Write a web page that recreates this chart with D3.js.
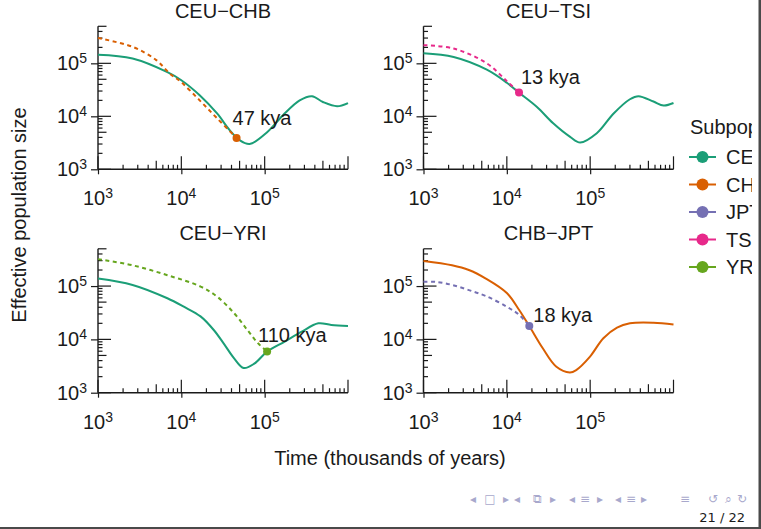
<!DOCTYPE html>
<html>
<head>
<meta charset="utf-8">
<script src="https://cdn.jsdelivr.net/npm/d3@7"></script>
<style>
body{margin:0;background:#fff}
svg{display:block}
text{font-family:"Liberation Sans",Arial,Helvetica,sans-serif;fill:#1a1a1a}
</style>
</head>
<body>
<script>
//---------------------------------- data
var popNames  = ["CEU","CHB","JPT","TSI","YRI"];
var popColors = ["#1b9e77","#d95f02","#7570b3","#e7298a","#66a61e"];
var panelTitles = ["CEU\u2212CHB","CEU\u2212TSI","CEU\u2212YRI","CHB\u2212JPT"];
var splitLabels = ["47 kya","13 kya","110 kya","18 kya"];
var tickValues = [1e3,1e4,1e5];
var tickExponents = ["3","4","5"];

// [time (years), effective size]
var chbPanelCEU = [[1e3,1.45e5],[2.6e3,1.23e5],[6.8e3,6.8e4],[1e4,4.8e4],[1.66e4,2.5e4],[2.7e4,1.12e4],[3.8e4,5.5e3],[5e4,3.55e3],[6.6e4,3.0e3],[1.07e5,5.0e3],[1.66e5,1.05e4],[2.63e5,2.0e4],[3.7e5,2.4e4],[5e5,1.86e4],[7.4e5,1.55e4],[1e6,1.78e4]];
var chbPanelCHB = [[1e3,3.0e5],[2.6e3,2.05e5],[5e3,1.15e5],[7.2e3,6.5e4],[1e4,4.4e4],[1.66e4,2.0e4],[2.7e4,9.1e3],[4.6e4,3.9e3]];
var tsiPanelCEU = [[1e3,1.55e5],[2.3e3,1.32e5],[5.75e3,7.6e4],[1e4,4.3e4],[1.4e4,2.8e4],[2.3e4,1.5e4],[3.6e4,7.4e3],[5.75e4,4.1e3],[7.6e4,3.2e3],[1.2e5,4.8e3],[1.9e5,1.12e4],[3.0e5,2.1e4],[3.8e5,2.4e4],[5.75e5,1.9e4],[7.6e5,1.6e4],[1e6,1.78e4]];
var tsiPanelTSI = [[1e3,2.2e5],[2.3e3,1.9e5],[5.75e3,1.0e5],[1e4,4.6e4],[1.4e4,2.8e4]];
var yriPanelCEU = [[1e3,1.38e5],[2.6e3,1.05e5],[6.8e3,5.9e4],[1.07e4,4.1e4],[1.7e4,2.7e4],[2.45e4,1.5e4],[3.2e4,8.5e3],[4.3e4,4.4e3],[5.6e4,2.9e3],[7.5e4,3.5e3],[1.07e5,5.9e3],[1.74e5,9.1e3],[2.75e5,1.38e4],[4.4e5,2.0e4],[6.3e5,1.86e4],[1e6,1.78e4]];
var yriPanelYRI = [[1e3,3.2e5],[2.6e3,2.45e5],[6.8e3,1.6e5],[1.7e4,9.8e4],[2.7e4,6.3e4],[4.3e4,3.1e4],[6.2e4,1.5e4],[8.3e4,8.5e3],[1.07e5,5.9e3]];
var jptPanelCHB = [[1e3,2.95e5],[2.2e3,2.45e5],[3.5e3,2.0e5],[5.6e3,1.38e5],[1e4,7.4e4],[1.4e4,3.6e4],[1.86e4,1.78e4],[2.7e4,6.8e3],[3.9e4,3.1e3],[5.7e4,2.4e3],[6.8e4,2.66e3],[9.9e4,4.7e3],[1.44e5,1.05e4],[2.1e5,1.66e4],[3.0e5,2.0e4],[5.75e5,2.05e4],[1e6,1.9e4]];
var jptPanelJPT = [[1e3,1.2e5],[1.4e3,1.2e5],[2.2e3,1.05e5],[3.5e3,8.4e4],[5.6e3,6.5e4],[1e4,4.1e4],[1.4e4,2.9e4],[1.86e4,1.78e4]];

//---------------------------------- layout
var W = 761, H = 529;
var colX = [[98,348],[423.5,673.5]];
var rowY = [[169.3,26.3],[392.7,248.8]];
var labelOffsets = [[-4,-13],[2,-9],[-9,-10],[4,-4]];

var panels = [
	{col:0,row:0,solid:chbPanelCEU,solidPop:"CEU",dashed:chbPanelCHB,dashedPop:"CHB"},
	{col:1,row:0,solid:tsiPanelCEU,solidPop:"CEU",dashed:tsiPanelTSI,dashedPop:"TSI"},
	{col:0,row:1,solid:yriPanelCEU,solidPop:"CEU",dashed:yriPanelYRI,dashedPop:"YRI"},
	{col:1,row:1,solid:jptPanelCHB,solidPop:"CHB",dashed:jptPanelJPT,dashedPop:"JPT"}
];

function colorOf(p){ return popColors[popNames.indexOf(p)]; }

var svg = d3.select("body").append("svg").attr("width",W).attr("height",H);

var defs = svg.append("defs");
defs.append("clipPath").attr("id","slide-clip")
	.append("rect").attr("x",0).attr("y",0).attr("width",752).attr("height",H);

panels.forEach(function (p,i){
	var x = d3.scaleLog().domain([1e3,1e6]).range(colX[p.col]);
	var y = d3.scaleLog().domain([1e3,5e5]).range(rowY[p.row]);
	var g = svg.append("g").attr("class","panel");
	var x0 = colX[p.col][0], x1 = colX[p.col][1];
	var yb = rowY[p.row][0], yt = rowY[p.row][1];

	// title
	g.append("text").attr("x",(x0+x1)/2).attr("y",yt-8.5)
		.attr("text-anchor","middle").style("font-size","20px")
		.text(panelTitles[i]);

	// log ticks inside
	var logVals = [];
	for (var k=3;k<=6;k++) for (var m=1;m<=9;m++) logVals.push(m*Math.pow(10,k));
	function tickLen(v){
		var m = Math.round(v/Math.pow(10,Math.floor(Math.log10(v)+1e-9)));
		return m===1 ? 13 : (m===5 ? 8.5 : 4.5);
	}
	g.selectAll(".xlt").data(logVals.filter(function(v){return v>=1e3&&v<=1e6;}))
		.enter().append("line")
		.attr("x1",function(d){return x(d);}).attr("x2",function(d){return x(d);})
		.attr("y1",yb).attr("y2",function(d){return yb-tickLen(d);})
		.attr("stroke","#1a1a1a").attr("stroke-width",1.2);
	g.selectAll(".ylt").data(logVals.filter(function(v){return v>=1e3&&v<=5e5;}))
		.enter().append("line")
		.attr("y1",function(d){return y(d);}).attr("y2",function(d){return y(d);})
		.attr("x1",x0).attr("x2",function(d){return x0+tickLen(d);})
		.attr("stroke","#1a1a1a").attr("stroke-width",1.2);

	// axes
	var xAxis = d3.axisBottom(x).tickValues(tickValues).tickSize(5).tickFormat("");
	var yAxis = d3.axisLeft(y).tickValues(tickValues).tickSize(7).tickFormat("");
	var xa = g.append("g").attr("transform","translate(0,"+yb+")").call(xAxis);
	var ya = g.append("g").attr("transform","translate("+x0+",0)").call(yAxis);
	[xa,ya].forEach(function(a){
		a.select(".domain").attr("stroke","#1a1a1a").attr("stroke-width",1.4);
		a.selectAll(".tick line").attr("stroke","#1a1a1a").attr("stroke-width",1.2);
	});
	ya.select(".domain").attr("d","M0,"+yb+"V"+yt);
	xa.select(".domain").attr("d","M"+x0+",0H"+x1);

	// tick labels with superscripts
	tickValues.forEach(function(v,j){
		var t = g.append("text").attr("x",x(v)).attr("y",yb+36)
			.attr("text-anchor","middle").style("font-size","20px");
		t.append("tspan").text("10");
		t.append("tspan").attr("dy",-7).style("font-size","14px").text(tickExponents[j]);
		var t2 = g.append("text").attr("x",x0-11).attr("y",y(v)+7)
			.attr("text-anchor","end").style("font-size","20px");
		t2.append("tspan").text("10");
		t2.append("tspan").attr("dy",-7).style("font-size","14px").text(tickExponents[j]);
	});

	// curves
	var line = d3.line().x(function(d){return x(d[0]);}).y(function(d){return y(d[1]);})
		.curve(d3.curveCatmullRom.alpha(0.5));
	g.append("path").datum(p.solid).attr("d",line)
		.attr("fill","none").attr("stroke",colorOf(p.solidPop)).attr("stroke-width",2);
	g.append("path").datum(p.dashed).attr("d",line)
		.attr("fill","none").attr("stroke",colorOf(p.dashedPop)).attr("stroke-width",2)
		.attr("stroke-dasharray","4,3.5");
	var sp = p.dashed[p.dashed.length-1];
	g.append("circle").attr("cx",x(sp[0])).attr("cy",y(sp[1])).attr("r",4)
		.attr("fill",colorOf(p.dashedPop));
	g.append("text").attr("x",x(sp[0])+labelOffsets[i][0]).attr("y",y(sp[1])+labelOffsets[i][1])
		.style("font-size","20px").text(splitLabels[i]);
});

// axis titles
svg.append("text").attr("transform","translate(26,215) rotate(-90)")
	.attr("text-anchor","middle").style("font-size","20px").text("Effective population size");
svg.append("text").attr("x",390).attr("y",465)
	.attr("text-anchor","middle").style("font-size","20px").text("Time (thousands of years)");

// legend (cut by the slide edge, as in the slide)
var leg = svg.append("g").attr("clip-path","url(#slide-clip)");
leg.append("text").attr("x",690).attr("y",134).style("font-size","20px").text("Subpopulation");
popNames.forEach(function(n,i){
	var cy = 157 + i*27.5;
	leg.append("line").attr("x1",689).attr("x2",716).attr("y1",cy).attr("y2",cy)
		.attr("stroke",popColors[i]).attr("stroke-width",2);
	leg.append("circle").attr("cx",702.5).attr("cy",cy).attr("r",6).attr("fill",popColors[i]);
	leg.append("text").attr("x",726).attr("y",cy+7).style("font-size","20px").text(n);
});

// beamer navigation + page number
var navSyms = [["\u25C2",473],["\u25A1",490],["\u25B8",506],["\u25C2",517],["\u29C9",537],["\u25B8",553],
	["\u25C2",572],["\u2261",585],["\u25B8",600],["\u25C2",618],["\u2261",631],["\u25B8",644],
	["\u2261",685],["\u21BA",713],["\u2315",728],["\u21BB",742]];
navSyms.forEach(function(s){
	svg.append("text").attr("x",s[1]).attr("y",503).attr("text-anchor","middle")
		.style("font-family","DejaVu Sans").style("font-size","12px").style("fill","#a8a8cc").text(s[0]);
});
svg.append("text").attr("x",745).attr("y",522).attr("text-anchor","end")
	.style("font-family","DejaVu Sans").style("font-size","13px").text("21 / 22");

// slide border
svg.append("rect").attr("x",758.5).attr("y",0).attr("width",2.5).attr("height",H).attr("fill","#4a4a4a");
svg.append("rect").attr("x",0).attr("y",527).attr("width",W).attr("height",2).attr("fill","#4a4a4a");
</script>
</body>
</html>
